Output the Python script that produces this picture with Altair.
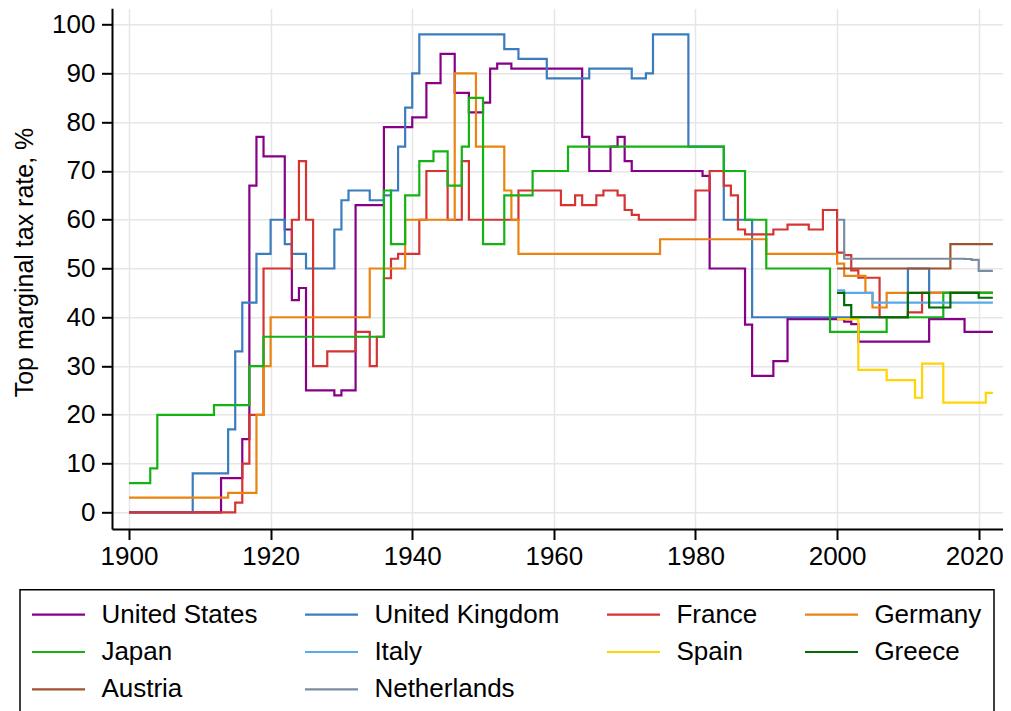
import altair as alt
import pandas as pd

countries = ["United States", "United Kingdom", "France", "Germany", "Japan",
             "Italy", "Spain", "Greece", "Austria", "Netherlands"]
colors = ["#870087", "#3a7cbd", "#d63333", "#ea8410", "#14b314",
          "#5aaae8", "#ffd400", "#046b04", "#a0522d", "#7a8ca0"]

us_years = [1900, 1913, 1916, 1917, 1918, 1919, 1922, 1923, 1924, 1925,
            1929, 1930, 1932, 1936, 1940, 1942, 1944, 1946, 1948, 1950,
            1951, 1952, 1954, 1964, 1965, 1968, 1969, 1970, 1971, 1981,
            1982, 1987, 1988, 1991, 1993, 2001, 2002, 2003, 2013, 2018, 2022]
us_rates = [0, 7, 15, 67, 77, 73, 58, 43.5, 46, 25,
            24, 25, 63, 79, 81, 88, 94, 86, 82, 84,
            91, 92, 91, 77, 70, 75, 77, 72, 70, 69,
            50, 38.5, 28, 31, 39.6, 39.1, 38.6, 35, 39.6, 37, 37]

uk_years = [1900, 1909, 1914, 1915, 1916, 1918, 1920, 1922, 1923, 1925,
            1929, 1930, 1931, 1934, 1936, 1937, 1938, 1939, 1940, 1941,
            1953, 1955, 1959, 1965, 1971, 1973, 1974, 1979, 1984, 1988,
            2010, 2013, 2022]
uk_rates = [0, 8, 17, 33, 43, 53, 60, 55, 53, 50,
            58, 64, 66, 64, 65, 66, 75, 83, 90, 98,
            95, 93, 89, 91, 89, 90, 98, 75, 60, 40,
            50, 45, 45]

fr_years = [1900, 1915, 1916, 1917, 1919, 1923, 1924, 1925, 1926, 1928,
            1932, 1934, 1935, 1936, 1937, 1938, 1941, 1942, 1945, 1947,
            1948, 1955, 1961, 1963, 1964, 1966, 1967, 1969, 1970, 1971,
            1972, 1980, 1982, 1984, 1985, 1986, 1987, 1991, 1993, 1996,
            1998, 2000, 2001, 2002, 2003, 2006, 2010, 2012, 2022]
fr_rates = [0, 2, 10, 20, 50, 60, 72, 60, 30, 33,
            37, 30, 36, 48, 52, 53, 60, 70, 60, 72,
            60, 66, 63, 65, 63, 65, 66, 65, 62, 61,
            60, 66, 70, 67, 65, 58, 57, 58, 59, 58,
            62, 53.25, 52.75, 49.6, 48.1, 40, 41, 45, 45]

de_years = [1900, 1914, 1918, 1919, 1920, 1934, 1939, 1946, 1949, 1953,
            1954, 1955, 1975, 1990, 2000, 2001, 2004, 2005, 2007, 2022]
de_rates = [3, 4, 20, 30, 40, 50, 60, 90, 75, 66,
            60, 53, 56, 53, 51, 48.5, 45, 42, 45, 45]

jp_years = [1900, 1903, 1904, 1912, 1917, 1919, 1936, 1937, 1939, 1941,
            1943, 1945, 1947, 1948, 1950, 1953, 1957, 1962, 1984, 1987,
            1990, 1999, 2007, 2015, 2022]
jp_rates = [6, 9, 20, 22, 30, 36, 66, 55, 65, 72,
            74, 67, 75, 85, 55, 65, 70, 75, 70, 60,
            50, 37, 40, 45, 45]

it_years = [2000, 2001, 2005, 2022]
it_rates = [45.5, 45, 43, 43]

es_years = [2000, 2003, 2007, 2011, 2012, 2015, 2021, 2022]
es_rates = [39.6, 29.2, 27.1, 23.5, 30.5, 22.5, 24.5, 24.5]

gr_years = [2000, 2001, 2002, 2010, 2013, 2016, 2020, 2022]
gr_rates = [45, 42.5, 40, 45, 42, 45, 44, 44]

at_years = [2000, 2016, 2022]
at_rates = [50, 55, 55]

nl_years = [2000, 2001, 2018, 2019, 2020, 2022]
nl_rates = [60, 52, 51.95, 51.75, 49.5, 49.5]

x_ticks = [1900, 1920, 1940, 1960, 1980, 2000, 2020]
y_ticks = [0, 10, 20, 30, 40, 50, 60, 70, 80, 90, 100]

series = [
    (us_years, us_rates), (uk_years, uk_rates), (fr_years, fr_rates),
    (de_years, de_rates), (jp_years, jp_rates), (it_years, it_rates),
    (es_years, es_rates), (gr_years, gr_rates), (at_years, at_rates),
    (nl_years, nl_rates),
]

rows = []
for i, (name, (yrs, vals)) in enumerate(zip(countries, series)):
    for yr, v in zip(yrs, vals):
        rows.append({"country": name, "idx": i, "year": yr, "rate": v})
df = pd.DataFrame(rows)

FONT = "Liberation Sans"

chart = alt.Chart(df).mark_line(
    interpolate="step-after", strokeWidth=2.2, clip=True
).encode(
    x=alt.X("year:Q",
            scale=alt.Scale(domain=[1897.6, 2023.43], nice=False, zero=False),
            axis=alt.Axis(values=x_ticks, format="d", title=None,
                          labelPadding=4, grid=True,
                          labelOffset={"condition": {"test": "datum.value == 2020",
                                                     "value": -4.5},
                                       "value": 0})),
    y=alt.Y("rate:Q",
            scale=alt.Scale(domain=[-3.42, 103.36], nice=False, zero=False),
            axis=alt.Axis(values=y_ticks, title="Top marginal tax rate, %",
                          labelPadding=6.5, titleAngle=270, titleX=-79.7,
                          titleY=253.7, titleAlign="center",
                          titleBaseline="alphabetic", titleFontSize=25,
                          titleFont=FONT, titleFontWeight="normal",
                          titleColor="black", grid=True)),
    color=alt.Color("country:N",
                    scale=alt.Scale(domain=countries, range=colors),
                    legend=alt.Legend(
                        title=None, orient="none", legendX=-92, legendY=581.4,
                        direction="horizontal", columns=4,
                        labelFontSize=26, labelFont=FONT, labelColor="black",
                        labelLimit=400, labelOffset=29.9,
                        symbolType="M-3,0H3", symbolSize=312,
                        symbolOffset=13.5, symbolFillColor="transparent",
                        symbolStrokeWidth=2.2, columnPadding=42,
                        rowPadding=11.3, padding=12, strokeColor="black",
                        fillColor="white")),
    detail="idx:O",
).properties(
    width=891,
    height=520.7,
    autosize=alt.AutoSizeParams(type="none"),
    padding={"left": 104, "top": 0.3, "right": 0, "bottom": 182},
).configure_view(
    strokeWidth=0
).configure_axis(
    domainColor="black", domainWidth=2, tickColor="black", tickWidth=2,
    tickSize=10.5, labelFontSize=26, labelFont=FONT, labelColor="black",
    gridColor="#e6e6e6", gridWidth=1.5
).configure_legend(
    strokeWidth=1.5
)

chart.save("out.html", embed_options={"renderer": "svg", "actions": False})
